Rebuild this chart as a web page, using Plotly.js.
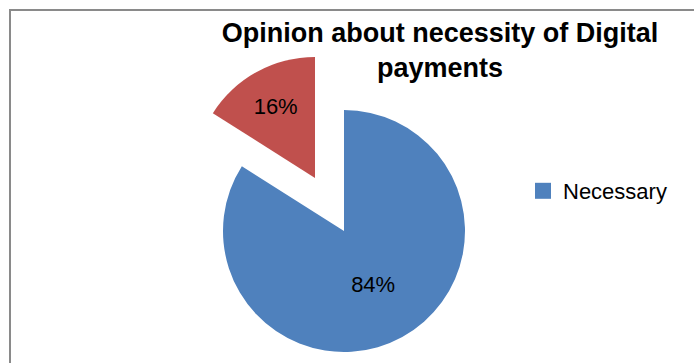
<!DOCTYPE html>
<html>
<head>
<meta charset="utf-8">
<script src="https://cdn.plot.ly/plotly-3.0.1.min.js"></script>
<style>html,body{margin:0;padding:0;background:#fff;}#chart{width:694px;height:363px;}</style>
</head>
<body>
<div id="chart"></div>
<script>
// Data
const categories = ["Necessary", "Not necessary"];
const shares = [84, 16];
const sliceColors = ["#4F81BD", "#C0504D"];
const legendCategories = ["Necessary"];
const titleText = "Opinion about necessity of Digital<br>payments";

const W = 694, H = 363;
const R = 121;
const mainCenter = [344, 231];
const pulledCenter = [315, 178];
const clear = "rgba(0,0,0,0)";

function domainFor(c) {
  return {
    x: [(c[0] - R) / W, (c[0] + R) / W],
    y: [1 - (c[1] + R) / H, 1 - (c[1] - R) / H]
  };
}

const baseSlice = {
  type: "pie",
  labels: categories,
  values: shares,
  sort: false,
  direction: "clockwise",
  rotation: 0,
  textposition: "inside",
  insidetextorientation: "horizontal",
  texttemplate: "%{percent:.0%}",
  showlegend: false,
  hoverinfo: "skip"
};

// main (non-pulled) slice
const mainTrace = Object.assign({}, baseSlice, {
  domain: domainFor(mainCenter),
  marker: { colors: [sliceColors[0], clear], line: { width: 0 } },
  insidetextfont: { family: "Liberation Sans, Arial, sans-serif", size: 22, color: ["#000000", clear] }
});

// exploded slice
const pulledTrace = Object.assign({}, baseSlice, {
  domain: domainFor(pulledCenter),
  marker: { colors: [clear, sliceColors[1]], line: { width: 0 } },
  insidetextfont: { family: "Liberation Sans, Arial, sans-serif", size: 22, color: [clear, "#000000"] }
});

// legend entry (only "Necessary" is listed in the reference)
const legendTraces = legendCategories.map(function (name) {
  return {
    type: "scatter", mode: "markers", x: [null], y: [null], name: name,
    marker: { symbol: "square", size: 16, color: sliceColors[categories.indexOf(name)] },
    hoverinfo: "skip"
  };
});

const layout = {
  width: W, height: H,
  margin: { l: 0, r: 0, t: 0, b: 0 },
  paper_bgcolor: "#ffffff", plot_bgcolor: "#ffffff",
  font: { family: "Liberation Sans, Arial, sans-serif", color: "#000" },
  title: {
    text: "<b>" + titleText + "</b>",
    font: { family: "Liberation Sans, Arial, sans-serif", size: 27, color: "#000" },
    x: 440 / W, xanchor: "center", xref: "paper",
    y: 1 - 42 / H, yanchor: "top", yref: "container"
  },
  showlegend: true,
  legend: {
    x: 523 / W, xanchor: "left", y: 1 - 191 / H, yanchor: "middle",
    font: { family: "Liberation Sans, Arial, sans-serif", size: 22, color: "#000" },
    bgcolor: clear, borderwidth: 0
  },
  xaxis: { visible: false }, yaxis: { visible: false },
  shapes: [{
    type: "rect", xref: "paper", yref: "paper",
    x0: 10 / W, x1: 1.05, y0: -0.05, y1: 1 - 10 / H,
    line: { color: "#8a8a8a", width: 2 }, fillcolor: clear, layer: "below"
  }]
};

Plotly.newPlot("chart", [mainTrace, pulledTrace].concat(legendTraces), layout, { staticPlot: true });
</script>
</body>
</html>
